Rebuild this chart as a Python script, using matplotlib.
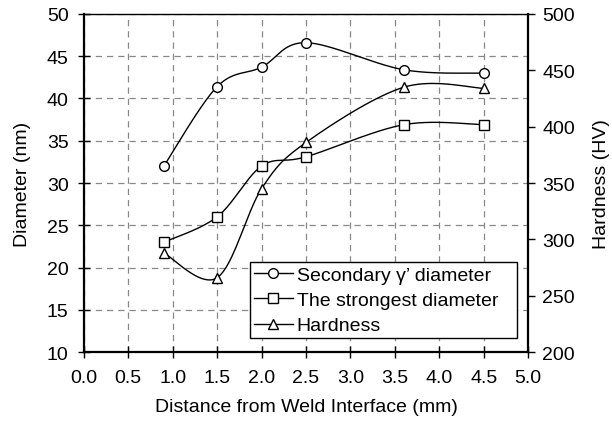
import numpy as np
import matplotlib
matplotlib.use("Agg")
import matplotlib.pyplot as plt
from matplotlib.lines import Line2D

plt.rcParams['font.family'] = ['Liberation Sans', 'DejaVu Sans']

distance = [0.9, 1.5, 2.0, 2.5, 3.6, 4.5]
gamma_diam = [32.0, 41.4, 43.7, 46.6, 43.4, 43.0]
strong_diam = [23.0, 26.0, 32.0, 33.1, 36.9, 36.9]
hardness = [288, 266, 345, 386, 435, 434]


def smooth(x, y, n=40):
    # excel-style smoothed line (cardinal bezier)
    x = np.asarray(x, float)
    y = np.asarray(y, float)
    px = np.concatenate([[x[0]], x, [x[-1]]])
    py = np.concatenate([[y[0]], y, [y[-1]]])
    xs, ys = [], []
    t = np.linspace(0, 1, n)
    for i in range(1, len(x)):
        p0 = np.array([px[i], py[i]])
        p3 = np.array([px[i + 1], py[i + 1]])
        p1 = p0 + (np.array([px[i + 1], py[i + 1]]) - np.array([px[i - 1], py[i - 1]])) / 6
        p2 = p3 - (np.array([px[i + 2], py[i + 2]]) - np.array([px[i], py[i]])) / 6
        b = ((1 - t) ** 3)[:, None] * p0 + (3 * (1 - t) ** 2 * t)[:, None] * p1 \
            + (3 * (1 - t) * t ** 2)[:, None] * p2 + (t ** 3)[:, None] * p3
        xs.append(b[:, 0])
        ys.append(b[:, 1])
    return np.concatenate(xs), np.concatenate(ys)


fig = plt.figure(figsize=(6.12, 4.27), dpi=100)
ax = fig.add_axes([0.137, 0.173, 0.726, 0.792])
ax2 = ax.twinx()

ms = 7
mk = dict(markerfacecolor='white', markeredgecolor='black', markersize=ms, markeredgewidth=1, ls='none')

sx, sy = smooth(distance, gamma_diam)
ax.plot(sx, sy, color='black', lw=1)
ax.plot(distance, gamma_diam, marker='o', **mk)
sx, sy = smooth(distance, strong_diam)
ax.plot(sx, sy, color='black', lw=1)
ax.plot(distance, strong_diam, marker='s', **mk)
sx, sy = smooth(distance, hardness)
ax2.plot(sx, sy, color='black', lw=1)
ax2.plot(distance, hardness, marker='^', **mk)

ax.set_xlim(0, 5)
ax.set_ylim(10, 50)
ax2.set_ylim(200, 500)
ax.set_xticks(np.arange(0, 5.01, 0.5))
ax.set_yticks(np.arange(10, 50.1, 5))
ax2.set_yticks(np.arange(200, 501, 50))
ax.set_xticklabels([f"{v:.1f}" for v in np.arange(0, 5.01, 0.5)])

ax.grid(True, color='#888888', ls=(0, (5, 4)), lw=0.9)
ax.tick_params(axis='x', direction='inout', length=8, width=1, labelsize=14, pad=8)
ax.tick_params(axis='y', direction='inout', length=8, width=1, labelsize=14, pad=7)
ax2.tick_params(direction='out', length=5, width=1, labelsize=14, pad=5)
for s in ['left', 'bottom', 'right']:
    ax2.spines[s].set_linewidth(1.6)
ax2.spines['top'].set_linewidth(1.0)
for s in ax.spines.values():
    s.set_visible(False)

ax.set_xlabel("Distance from Weld Interface (mm)", fontsize=14, labelpad=9)
ax.set_ylabel("Diameter (nm)", fontsize=14, labelpad=11)
ax2.set_ylabel("Hardness (HV)", fontsize=14, labelpad=13)

handles = [
    Line2D([], [], color='black', lw=1, marker='o', markerfacecolor='white', markersize=ms),
    Line2D([], [], color='black', lw=1, marker='s', markerfacecolor='white', markersize=ms),
    Line2D([], [], color='black', lw=1, marker='^', markerfacecolor='white', markersize=ms),
]
labels = ["Secondary \u03b3\u2019 diameter", "The strongest diameter", "Hardness"]
leg = ax2.legend(handles, labels, loc='lower left', bbox_to_anchor=(0.374, 0.041, 0.6, 0.241),
                 mode='expand', fontsize=14, fancybox=False, framealpha=1, edgecolor='black',
                 handlelength=2.0, handletextpad=0.2, borderaxespad=0, labelspacing=0.4,
                 borderpad=0.2)
leg.get_frame().set_linewidth(1)

fig.savefig("out.png", dpi=100)
